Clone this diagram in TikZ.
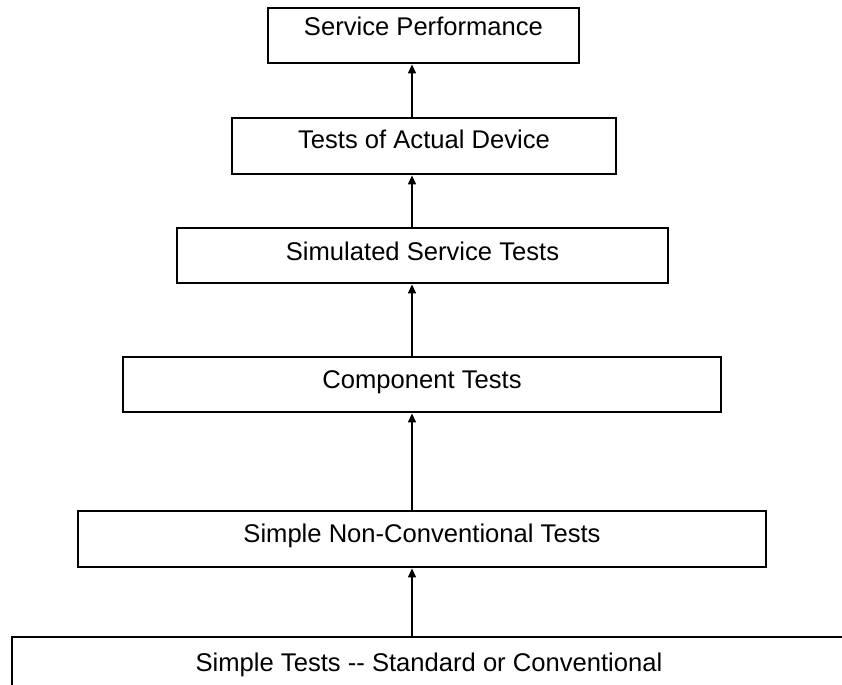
\documentclass[tikz,border=0pt]{standalone}
\usepackage{fontspec}
\setmainfont{Liberation Sans}
\usetikzlibrary{arrows.meta,positioning,calc}

\begin{document}
\begin{tikzpicture}[x=0.5pt,y=-0.5pt,
  stage/.style={draw, line width=1.2pt, anchor=north, inner sep=0pt,
    font=\fontsize{12.8}{15}\selectfont},
  flow/.style={line width=0.7pt, -{Triangle[length=4.5pt,width=4pt]}}]
  \useasboundingbox (0,0) rectangle (842,685); % page frame
  \coordinate (spine) at (412,0); % common x of all arrows
  \node[stage, minimum width=155.5pt, text height=13.6pt, text depth=13.9pt] (perf) at (423.5,7) {Service Performance};
  \node[stage, minimum width=192pt, text height=15pt, text depth=13pt] (actual) at (424,117) {Tests of Actual Device};
  \node[stage, minimum width=245.5pt, text height=16pt, text depth=11.5pt] (simul) at (422.5,227) {Simulated Service Tests};
  \node[stage, minimum width=299pt, text height=15.5pt, text depth=12pt] (comp) at (422,356) {Component Tests};
  \node[stage, minimum width=344pt, text height=15.5pt, text depth=12.5pt] (nonconv) at (422,510) {Simple Non-Conventional Tests};
  \node[stage, minimum width=417pt, text height=17pt, text depth=11pt] (simple) at (429,636) {Simple Tests {-}{-} Standard or Conventional};
  \draw[flow] (actual.north -| spine) -- (perf.south -| spine);
  \draw[flow] (simul.north -| spine) -- (actual.south -| spine);
  \draw[flow] (comp.north -| spine) -- (simul.south -| spine);
  \draw[flow] (nonconv.north -| spine) -- (comp.south -| spine);
  \draw[flow] (simple.north -| spine) -- (nonconv.south -| spine);
\end{tikzpicture}
\end{document}
